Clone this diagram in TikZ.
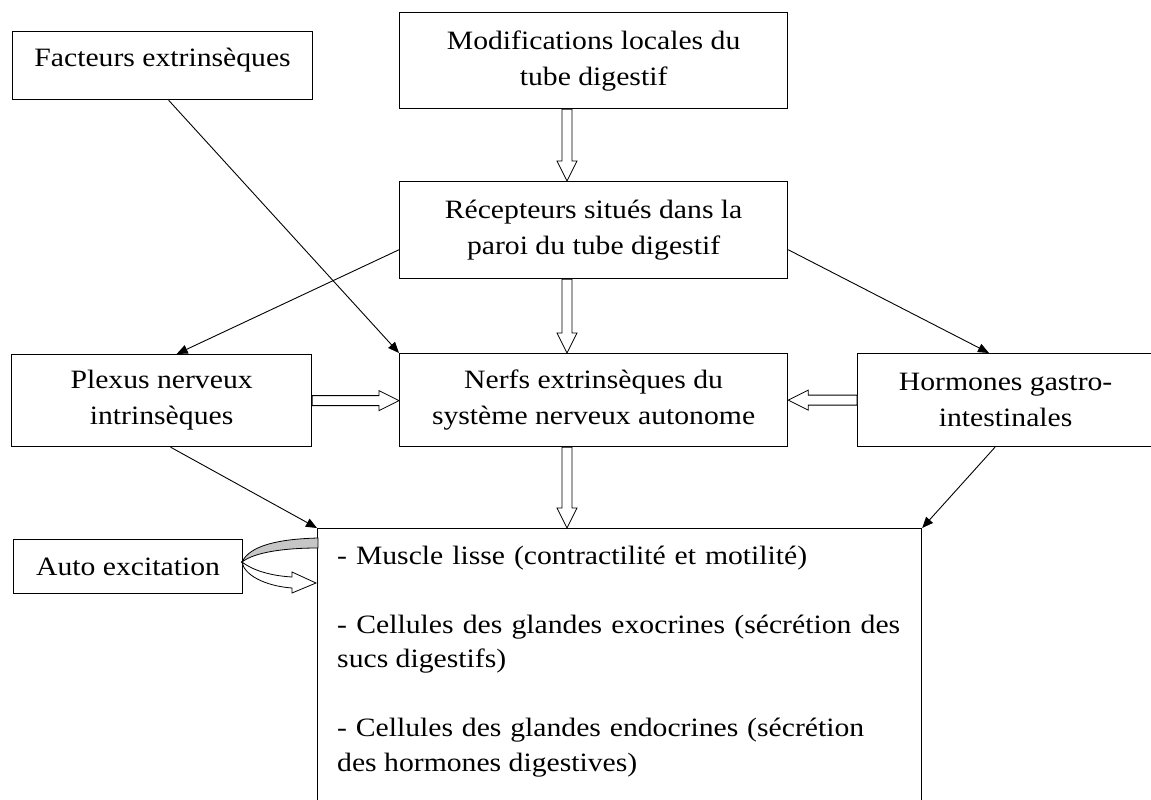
\documentclass[tikz,border=0pt]{standalone}
\usepackage{fontspec}
\setmainfont{Liberation Serif}[FakeStretch=1.12]
\usetikzlibrary{calc,arrows.meta}
\begin{document}
\begin{tikzpicture}[x=1pt,y=-1pt,
  box/.style={draw, line width=1.2pt, inner sep=0pt, anchor=north west, align=center,
    font=\fontsize{26.5}{36}\selectfont},
  btext/.style={inner sep=0pt, anchor=base west, font=\fontsize{26.5}{34.5}\selectfont},
  lineto/.style={line width=0.9pt, -{Triangle[length=11pt,width=9pt]}},
  hollowarrow/.style={line width=0.8pt, fill=white, to path={
    ($(\tikztostart)!5pt!90:(\tikztotarget)$) --
    ($(\tikztotarget)!20pt!(\tikztostart)!5pt!-90:(\tikztostart)$) --
    ($(\tikztotarget)!20pt!(\tikztostart)!10pt!-90:(\tikztostart)$) --
    (\tikztotarget) --
    ($(\tikztotarget)!20pt!(\tikztostart)!10pt!90:(\tikztostart)$) --
    ($(\tikztotarget)!20pt!(\tikztostart)!5pt!90:(\tikztostart)$) --
    ($(\tikztostart)!5pt!-90:(\tikztotarget)$) -- cycle}}
]
\useasboundingbox (0,0) rectangle (1151,800);
\clip (0,0) rectangle (1151,800);

% boxes
\node[box, minimum width=300pt, minimum height=68pt, text depth=16pt] (fac) at (12,31) {Facteurs extrinsèques};
\node[box, minimum width=388pt, minimum height=96pt] (mod) at (399,12) {Modifications locales du\\tube digestif};
\node[box, minimum width=388pt, minimum height=97pt] (rec) at (399,181) {Récepteurs situés dans la\\paroi du tube digestif};
\node[box, minimum width=300pt, minimum height=92pt] (plx) at (11,354) {Plexus nerveux\\intrinsèques};
\node[box, minimum width=388pt, minimum height=93pt] (ner) at (399,353) {Nerfs extrinsèques du\\système nerveux autonome};
\node[box, minimum width=296pt, minimum height=93pt] (hor) at (857,353) {Hormones gastro-\\intestinales};
\node[box, minimum width=229pt, minimum height=54pt] (aut) at (13,539) {Auto excitation};
\node[box, minimum width=604pt, minimum height=300pt] (bot) at (317,528) {};

% bottom box text
\node[btext] (b1) at (337,564) {\makebox[470pt][s]{- Muscle lisse (contractilité et motilité)}};
\node[btext] (b2) at (337,633) {\makebox[563pt][s]{- Cellules des glandes exocrines (sécrétion des}};
\node[btext] (b3) at (337,667.5) {sucs digestifs)};
\node[btext] (b4) at (337,736.5) {\makebox[527pt][s]{- Cellules des glandes endocrines (sécrétion}};
\node[btext] (b5) at (337,771) {des hormones digestives)};

% hollow block arrows
\coordinate (ax) at (567,0);
\coordinate (m1) at (mod.south -| ax);
\coordinate (m2) at (rec.north -| ax);
\coordinate (m3) at (rec.south -| ax);
\coordinate (m4) at (ner.north -| ax);
\coordinate (m5) at (ner.south -| ax);
\coordinate (m6) at (bot.north -| ax);
\coordinate (q1) at (plx.east);
\coordinate (q2) at (plx.east -| ner.west);
\coordinate (q3) at (hor.west);
\coordinate (q4) at (hor.west -| ner.east);
\draw[hollowarrow] (m1) to (m2);
\draw[hollowarrow] (m3) to (m4);
\draw[hollowarrow] (m5) to (m6);
\draw[hollowarrow] (q1) to (q2);
\draw[hollowarrow] (q3) to (q4);

% thin arrows
\coordinate (f1) at ($(fac.south)+(6,0)$);
\coordinate (r1) at ($(rec.south west)!0.3!(rec.north west)$);
\coordinate (p1) at ($(plx.north west)!0.55!(plx.north east)$);
\coordinate (r2) at ($(rec.south east)!0.3!(rec.north east)$);
\coordinate (h1) at ($(hor.north west)+(132,0)$);
\coordinate (p2) at ($(plx.south west)!0.53!(plx.south east)$);
\coordinate (h2) at ($(hor.south west)+(138,0)$);
\draw[lineto] (f1) -- (ner.north west);
\draw[lineto] (r1) -- (p1);
\draw[lineto] (r2) -- (h1);
\draw[lineto] (p2) -- (bot.north west);
\draw[lineto] (h2) -- (bot.north east);

% auto-excitation curved arrow
\draw[line width=0.8pt, fill=gray!45] (318,538) .. controls (280,539) and (250,545) .. (242,562)
  .. controls (255,552) and (285,548) .. (318,548) -- cycle;
\draw[line width=0.8pt, fill=white] (242,562) .. controls (255,572) and (275,576) .. (292,577)
  -- (292,572) -- (316,583) -- (292,593) -- (292,588)
  .. controls (265,586) and (244,575) .. (242,562) -- cycle;
\end{tikzpicture}
\end{document}
